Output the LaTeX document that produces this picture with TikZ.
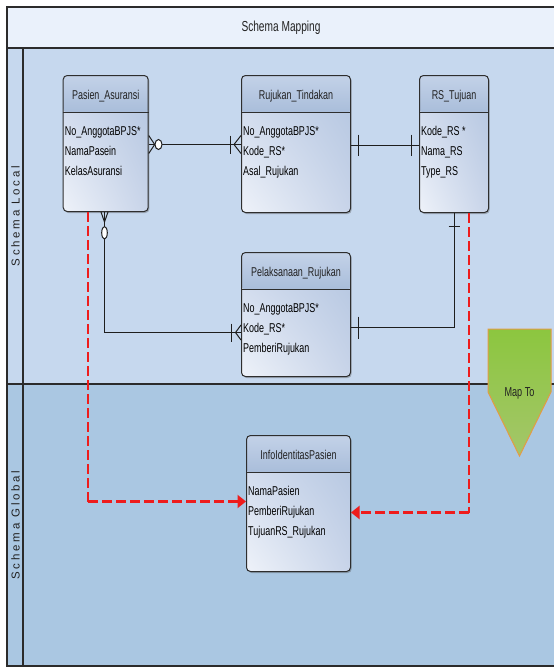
\documentclass[tikz,border=0pt]{standalone}
\usepackage{fontspec}
\setmainfont{Liberation Sans}
\newfontfamily\condensed{Liberation Sans}[FakeStretch=0.7]
\newfontfamily\spaced{Liberation Sans}[LetterSpace=24]
\usetikzlibrary{arrows.meta,shadows,shadings}

% palette
\definecolor{bandtop}{HTML}{EAF1FB}
\definecolor{lanelocal}{HTML}{C6D8EE}
\definecolor{laneglobal}{HTML}{AAC7E2}
\definecolor{frameline}{HTML}{2B2B2B}
\definecolor{hdrtop}{HTML}{C3D2E8}
\definecolor{hdrbot}{HTML}{A9BDDA}
\definecolor{bodyul}{HTML}{C9D5EA}
\definecolor{bodyur}{HTML}{B3C5E0}
\definecolor{bodyll}{HTML}{EEF2F9}
\definecolor{bodylr}{HTML}{C8D4E9}
\definecolor{entborder}{HTML}{2E2E2E}
\definecolor{relline}{HTML}{1E1E1E}
\definecolor{titletext}{HTML}{222222}
\definecolor{mapred}{HTML}{EE1C1C}
\definecolor{mapgreentop}{HTML}{8CC63F}
\definecolor{mapgreenbot}{HTML}{A4C66A}
\definecolor{maporange}{HTML}{E39B45}

% one entity: name, left x, top y, width, height, title, attribute list
\newcommand\erentity[7]{%
  \node[entbox, minimum width=#4pt, minimum height=#5pt] (#1) at (#2,#3) {};
  \draw[entsep] ([yshift=-37pt]#1.north west) -- ([yshift=-37pt]#1.north east);
  \node[enttitle] (#1-title) at ([yshift=-21pt]#1.north) {#6};
  \foreach \attr [count=\k] in {#7}{%
    \node[entattr] (#1-attr\k) at ([xshift=2pt, yshift={-57.5pt-20pt*(\k-1)}]#1.north west) {\attr};
  }%
}

\begin{document}
\begin{tikzpicture}[x=1pt, y=-1pt,
  laneframe/.style={draw=frameline, line width=1.1pt},
  lanelabel/.style={font=\spaced\fontsize{11.5}{13}\selectfont, text=titletext, inner sep=0pt, rotate=90},
  bandtitle/.style={font=\condensed\fontsize{14.5}{16}\selectfont, text=titletext, inner sep=0pt},
  entbox/.style={draw=entborder, line width=1pt, rounded corners=4pt, inner sep=0pt, anchor=north west,
    drop shadow={shadow xshift=1.2pt, shadow yshift=-1.5pt, opacity=0.35, fill=black!70},
    path picture={
      \shade[upper left=bodyul, upper right=bodyur, lower left=bodyll, lower right=bodylr]
        (path picture bounding box.south west) rectangle (path picture bounding box.north east);
      \shade[top color=hdrtop, bottom color=hdrbot]
        (path picture bounding box.north west) rectangle ([yshift=-37pt]path picture bounding box.north east);
    }},
  entsep/.style={draw=entborder, line width=1pt},
  enttitle/.style={font=\condensed\fontsize{12.8}{14}\selectfont, text=titletext, inner sep=0pt,
    text height=9pt, text depth=2.5pt},
  entattr/.style={font=\condensed\fontsize{12.8}{14}\selectfont, text=black, inner sep=0pt, anchor=west,
    text height=9pt, text depth=2.5pt},
  rel/.style={draw=relline, line width=1pt},
  knot/.style={draw=relline, line width=1pt, fill=white},
  mapv/.style={draw=mapred, line width=2pt, dash pattern=on 10pt off 4pt},
  maph/.style={draw=mapred, line width=3pt, dash pattern=on 10pt off 4pt,
    -{Triangle[length=8.5pt, width=13pt]}},
  mapshape/.style={draw=maporange, line width=1pt, top color=mapgreentop, bottom color=mapgreenbot},
  maptext/.style={font=\condensed\fontsize{13}{14}\selectfont, text=titletext, inner sep=0pt}
]
\useasboundingbox (0,0) rectangle (554,667);

% swimlane backgrounds
\fill[white] (0,0) rectangle (554,667);
\fill[bandtop] (7,7) rectangle (554,48);
\fill[lanelocal] (7,48) rectangle (554,384);
\fill[laneglobal] (7,384) rectangle (554,666);

% swimlane frame
\draw[laneframe] (554,7) -- (7,7) -- (7,666) -- (554,666);
\draw[laneframe] (7,48) -- (554,48);
\draw[laneframe] (7,384) -- (554,384);
\draw[laneframe] (23,48) -- (23,666);

\node[bandtitle] (pooltitle) at (281,28) {Schema Mapping};
\node[lanelabel] (lanelocaltitle) at (15.5,216) {Schema Local};
\node[lanelabel] (laneglobaltitle) at (15.5,525) {Schema Global};

% entities
\erentity{pasien}{62.7}{75}{85}{136}{Pasien\_Asuransi}{No\_AnggotaBPJS*,NamaPasein,KelasAsuransi}
\erentity{rujukan}{241}{75}{109}{137}{Rujukan\_Tindakan}{No\_AnggotaBPJS*,Kode\_RS*,Asal\_Rujukan}
\erentity{rstujuan}{419}{75}{69}{137}{RS\_Tujuan}{Kode\_RS *,Nama\_RS,Type\_RS}
\erentity{pelaks}{241}{252}{109}{124}{Pelaksanaan\_Rujukan}{No\_AnggotaBPJS*,Kode\_RS*,PemberiRujukan}
\erentity{info}{246}{435}{104}{136}{InfoIdentitasPasien}{NamaPasien,PemberiRujukan,TujuanRS\_Rujukan}

% connector end points
\coordinate (r1a) at ([yshift=-1pt]pasien.east);
\coordinate (r1b) at (r1a -| rujukan.west);
\coordinate (r2a) at ([yshift=-1pt]rujukan.east);
\coordinate (r2b) at (r2a -| rstujuan.west);
\coordinate (r3a) at ([xshift=-1.2pt]pasien.south);
\coordinate (r3b) at ([yshift=-18pt]pelaks.west);
\coordinate (r4a) at (rstujuan.south);
\coordinate (r4b) at ([yshift=-13pt]pelaks.east);

% Pasien_Asuransi -- Rujukan_Tindakan (zero-or-many / one-or-many)
\draw[rel] (r1a) -- (r1b);
\draw[rel] ([shift={(0,-9)}]r1a) -- ([shift={(6,0)}]r1a) -- ([shift={(0,9)}]r1a);
\draw[knot] ([shift={(9.8,0)}]r1a) ellipse [x radius=3.5pt, y radius=5pt];
\draw[rel] ([shift={(0,-9)}]r1b) -- ([shift={(-7,0)}]r1b) -- ([shift={(0,9)}]r1b);
\draw[rel] ([shift={(-11,-9)}]r1b) -- ([shift={(-11,9)}]r1b);

% Rujukan_Tindakan -- RS_Tujuan (one / one)
\draw[rel] (r2a) -- (r2b);
\draw[rel] ([shift={(7,-10.5)}]r2a) -- ([shift={(7,10.5)}]r2a);
\draw[rel] ([shift={(-8,-10.5)}]r2b) -- ([shift={(-8,10.5)}]r2b);

% Pasien_Asuransi -- Pelaksanaan_Rujukan (zero-or-many / one-or-many)
\draw[rel] (r3a) |- (r3b);
\draw[rel] ([shift={(-3.5,0)}]r3a) -- ([shift={(0,10)}]r3a) -- ([shift={(3.5,0)}]r3a);
\draw[knot] ([shift={(0,20.8)}]r3a) ellipse [x radius=2.8pt, y radius=6.3pt];
\draw[rel] ([shift={(0,-7.5)}]r3b) -- ([shift={(-5.5,0)}]r3b) -- ([shift={(0,7.5)}]r3b);
\draw[rel] ([shift={(-9.3,-9)}]r3b) -- ([shift={(-9.3,9)}]r3b);

% RS_Tujuan -- Pelaksanaan_Rujukan (one / one)
\draw[rel] (r4a) |- (r4b);
\draw[rel] ([shift={(-5.5,13)}]r4a) -- ([shift={(5.5,13)}]r4a);
\draw[rel] ([shift={(7,-11)}]r4b) -- ([shift={(7,11)}]r4b);

% mapping into the global schema
\coordinate (mlTop) at ([xshift=25.3pt]pasien.south west);
\coordinate (mlEnd) at ([yshift=2pt]info.west);
\coordinate (mlBend) at (mlTop |- mlEnd);
\draw[mapv] (mlTop) -- (mlBend);
\draw[maph] (mlBend) -- (mlEnd);

\coordinate (mrTop) at ([xshift=-20pt]rstujuan.south east);
\coordinate (mrEnd) at ([yshift=-9pt]info.east);
\coordinate (mrBend) at (mrTop |- mrEnd);
\draw[mapv] (mrTop) -- (mrBend);
\draw[maph] (mrBend) -- (mrEnd);

% "Map To" marker
\path[mapshape] (488,329) -- (551,329) -- (551,392) -- (519.5,456) -- (488,392) -- cycle;
\node[maptext] (mapto) at (519.5,393) {Map To};
\end{tikzpicture}
\end{document}
